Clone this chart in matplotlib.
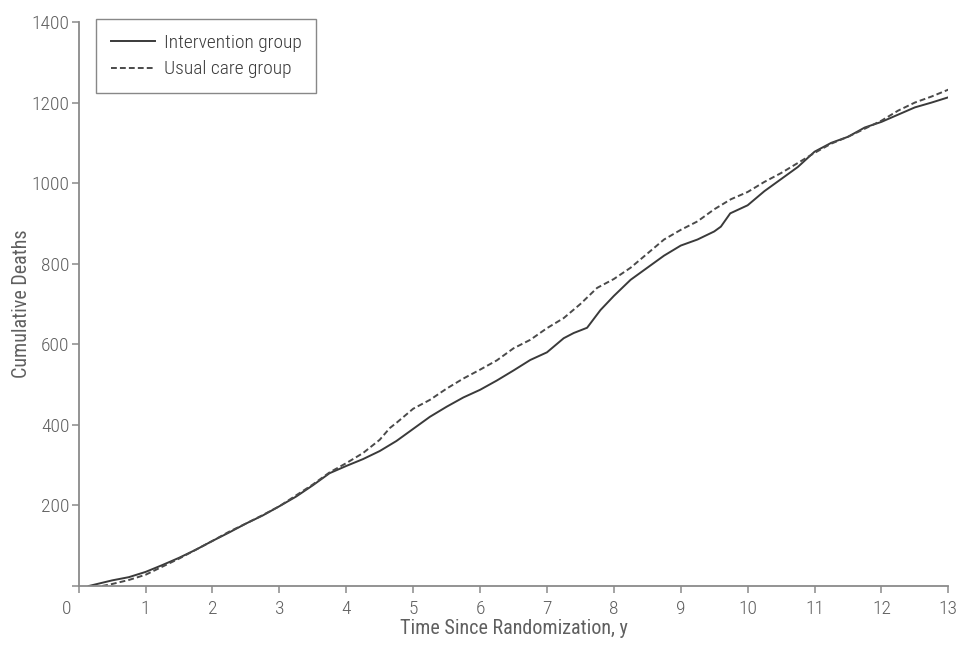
import matplotlib
matplotlib.use("Agg")
import matplotlib.pyplot as plt
from matplotlib import font_manager
import matplotlib.transforms as mtransforms

# ---- data ----
t_int = [0.15, 0.3, 0.5, 0.75, 1.0, 1.25, 1.5, 1.75, 2.0, 2.25, 2.5, 2.75, 3.0, 3.25, 3.5,
         3.75, 4.0, 4.25, 4.5, 4.75, 5.0, 5.25, 5.5, 5.75, 6.0, 6.25, 6.5, 6.75, 7.0, 7.25,
         7.4, 7.6, 7.8, 8.0, 8.25, 8.5, 8.75, 9.0, 9.25, 9.5, 9.6, 9.74, 10.0, 10.25, 10.5,
         10.75, 11.0, 11.25, 11.5, 11.75, 12.0, 12.25, 12.5, 12.75, 13.0]
d_int = [0, 6, 14, 22, 35, 52, 70, 90, 112, 133, 155, 175, 198, 222, 250,
         280, 298, 315, 335, 360, 390, 420, 445, 468, 487, 510, 535, 561, 580, 615,
         628, 641, 685, 720, 760, 790, 820, 845, 860, 880, 892, 925, 945, 980, 1010,
         1040, 1078, 1100, 1115, 1138, 1152, 1170, 1188, 1200, 1213]

t_usual = [0.35, 0.5, 0.75, 1.0, 1.25, 1.5, 1.75, 2.0, 2.25, 2.5, 2.75, 3.0, 3.25, 3.5, 3.75,
           4.0, 4.25, 4.5, 4.65, 4.75, 5.0, 5.25, 5.5, 5.75, 6.0, 6.25, 6.5, 6.75, 7.0, 7.25,
           7.5, 7.75, 8.0, 8.25, 8.5, 8.75, 9.0, 9.25, 9.5, 9.75, 10.0, 10.25, 10.5, 10.75,
           11.0, 11.25, 11.5, 11.75, 12.0, 12.25, 12.5, 12.75, 13.0]
d_usual = [0, 5, 15, 28, 48, 68, 90, 112, 135, 155, 176, 198, 225, 252, 282,
           305, 330, 363, 392, 405, 440, 462, 490, 515, 537, 560, 590, 611, 640, 665,
           700, 740, 762, 790, 825, 860, 884, 905, 935, 960, 978, 1003, 1025, 1050,
           1075, 1098, 1115, 1135, 1155, 1180, 1200, 1215, 1232]

x_ticks = list(range(0, 14))
y_ticks = [0, 200, 400, 600, 800, 1000, 1200, 1400]
y_labels = ["", "200", "400", "600", "800", "1000", "1200", "1400"]
series_labels = ["Intervention group", "Usual care group"]

# ---- font ----
names = {f.name for f in font_manager.fontManager.ttflist}
fam = [n for n in ["Roboto Condensed", "Liberation Sans Narrow", "Liberation Sans"] if n in names]
plt.rcParams["font.family"] = fam + ["DejaVu Sans"]
plt.rcParams["font.weight"] = "light"

TXT = "#5f5f5f"
AX = "#8a8a8a"

fig = plt.figure(figsize=(9.61, 6.52), dpi=100)
ax = fig.add_axes([0.0819, 0.1012, 0.9049, 0.8651])

ax.plot(t_int, d_int, color="#3a3a3a", lw=1.4, label=series_labels[0])
ax.plot(t_usual, d_usual, color="#4a4a4a", lw=1.4, linestyle=(0, (3, 1.6)),
        label=series_labels[1])

ax.set_xlim(0, 13)
ax.set_ylim(0, 1400)
ax.set_xticks(x_ticks)
ax.set_xticklabels([str(v) for v in x_ticks])
ax.set_yticks(y_ticks)
ax.set_yticklabels(y_labels)

for s in ["top", "right"]:
    ax.spines[s].set_visible(False)
for s in ["left", "bottom"]:
    ax.spines[s].set_color(AX)
    ax.spines[s].set_linewidth(1.3)

ax.tick_params(axis="both", colors=AX, labelcolor=TXT, labelsize=14, length=5, width=1.1,
               direction="out")
ax.tick_params(axis="x", pad=5)
ax.tick_params(axis="y", pad=1.5)

# shift the x "0" label to the left of the origin
lbl0 = ax.get_xticklabels()[0]
lbl0.set_transform(lbl0.get_transform() +
                   mtransforms.ScaledTranslation(-12 / 100, 0, fig.dpi_scale_trans))

ax.set_xlabel("Time Since Randomization, y", color=TXT, fontsize=14.5, labelpad=1)
ax.set_ylabel("Cumulative Deaths", color=TXT, fontsize=14.5)
ax.yaxis.set_label_coords(-0.055, 0.5)

leg = ax.legend(loc="upper left", bbox_to_anchor=(0.0199, 1.005), frameon=True,
                fancybox=False, fontsize=14, handlelength=2.3, handletextpad=0.45,
                borderpad=0.75, labelspacing=0.45, borderaxespad=0)
leg.get_frame().set_edgecolor("#6a6a6a")
leg.get_frame().set_linewidth(1.0)
for t in leg.get_texts():
    t.set_color("#3a3a3a")

fig.savefig("out.png", dpi=100)
